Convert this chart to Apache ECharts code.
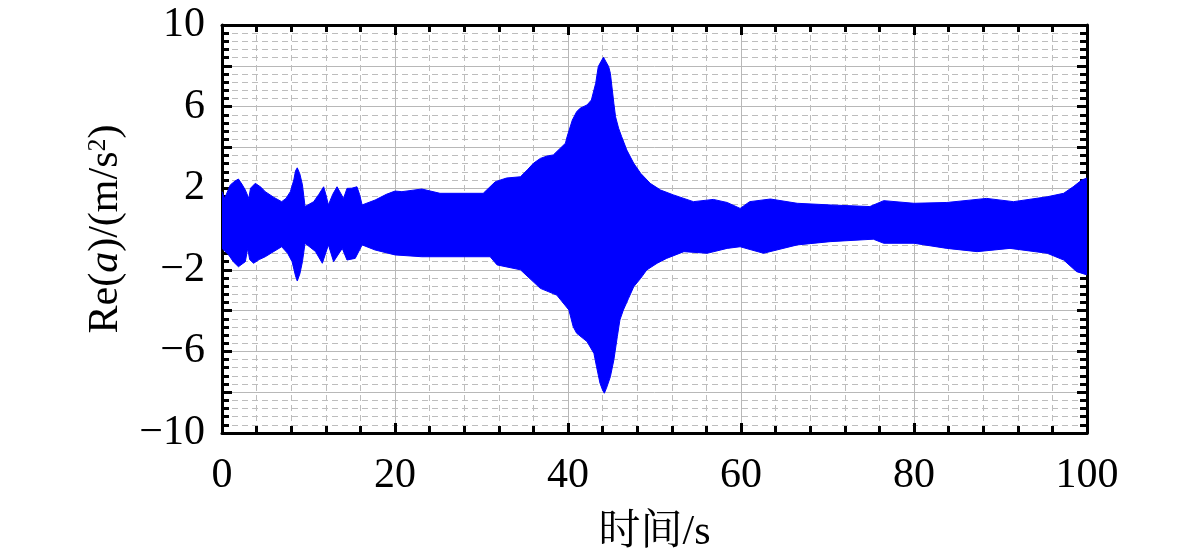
<!DOCTYPE html>
<html><head><meta charset="utf-8">
<script src="https://cdn.jsdelivr.net/npm/echarts@6/dist/echarts.min.js"></script>
<style>html,body{margin:0;padding:0;background:#fff}#c{width:1181px;height:560px}</style>
</head><body><div id="c"></div>
<script>
// Upper envelope of Re(a) [time s, value m/s^2]
const upperEnvelope = [
  [0,1.83],[0.3,1.5],[0.96,2.16],[1.5,2.35],[1.9,2.45],[2.3,2.2],[2.7,1.91],[3.1,1.5],[3.3,2.0],[3.85,2.24],
  [4.5,2.05],[5.0,1.83],[6.0,1.55],[6.9,1.34],[7.4,1.5],[7.9,1.83],[8.3,2.4],[8.5,2.85],[8.7,3.0],
  [9.0,2.7],[9.3,2.16],[9.6,1.1],[10.6,1.34],[11.2,1.7],[11.75,2.07],[12.0,1.7],[12.3,1.18],[12.8,1.7],
  [13.3,2.07],[14.05,1.5],[14.45,1.99],[15.0,2.0],[15.6,2.07],[15.9,1.7],[16.2,1.18],[17.7,1.42],
  [19.0,1.7],[20.0,1.86],[20.8,1.83],[23.1,1.96],[25.2,1.75],[30.2,1.75],[31.6,2.32],[32.9,2.5],
  [34.5,2.56],[35.3,2.9],[36.0,3.22],[36.8,3.46],[37.6,3.58],[38.3,3.63],[39.7,4.2],[39.9,4.53],
  [40.5,5.34],[41.0,5.75],[41.4,5.92],[42.2,6.08],[42.7,6.32],[43.2,7.14],[43.5,7.96],[43.8,8.2],
  [44.1,8.42],[44.7,7.96],[44.9,7.63],[45.3,6.16],[45.5,5.5],[45.85,4.94],[46.2,4.53],[46.8,3.87],
  [47.6,3.22],[48.4,2.73],[49.5,2.24],[50.7,1.91],[52.2,1.67],[54.5,1.34],[56.8,1.45],[58.4,1.3],
  [59.9,1.01],[61.0,1.34],[63.4,1.47],[66.5,1.26],[70.3,1.18],[74.9,1.1],[76.5,1.39],[80.0,1.26],
  [83.8,1.3],[88.4,1.5],[91.5,1.34],[95.4,1.58],[97.3,1.75],[98.4,2.07],[99.4,2.4],[100,2.5]
];
// Lower envelope of Re(a)
const lowerEnvelope = [
  [0,-0.95],[0.77,-1.27],[1.3,-1.6],[1.9,-1.85],[2.7,-1.6],[2.97,-0.95],[3.2,-1.5],[3.65,-1.68],
  [4.3,-1.5],[5.0,-1.36],[6.0,-1.1],[6.9,-0.87],[7.6,-1.2],[8.1,-1.6],[8.5,-2.3],[8.7,-2.55],
  [9.0,-2.2],[9.3,-1.6],[9.6,-0.7],[10.8,-1.1],[11.6,-1.68],[12.3,-0.78],[12.9,-1.6],[13.9,-0.95],
  [14.45,-1.52],[15.4,-1.44],[16.2,-0.78],[17.7,-1.03],[20.0,-1.27],[23.1,-1.36],[25.2,-1.36],
  [31.0,-1.36],[31.8,-1.76],[34.5,-2.0],[36.8,-2.91],[38.7,-3.24],[40.1,-3.97],[40.6,-4.79],
  [41.0,-5.11],[42.2,-5.52],[43.0,-6.1],[43.3,-6.75],[43.7,-7.56],[44.0,-7.9],[44.2,-8.05],
  [44.45,-7.8],[44.9,-7.24],[45.3,-6.42],[45.7,-5.28],[46.0,-4.46],[46.4,-3.97],[47.0,-3.4],
  [47.6,-2.83],[48.4,-2.42],[49.1,-2.01],[50.3,-1.68],[51.4,-1.44],[53.4,-1.11],[56.1,-1.19],
  [58.4,-0.95],[59.9,-0.87],[62.6,-1.19],[66.5,-0.78],[70.3,-0.62],[75.3,-0.5],[76.5,-0.7],
  [80.0,-0.7],[83.8,-0.95],[87.3,-1.11],[91.1,-0.95],[95.4,-1.19],[97.3,-1.52],[98.8,-2.09],[100,-2.25]
];
const yLabelValues = [-10, -6, -2, 2, 6, 10];
const xLabelValues = [0, 20, 40, 60, 80, 100];

const serif = '"Liberation Serif","Times New Roman","Noto Serif CJK SC","Noto Sans CJK SC",serif';
const black = '#000';
const axisLine = {show: true, onZero: false, lineStyle: {color: black, width: 3}};
const tick = {show: true, inside: true, length: 10, lineStyle: {color: black, width: 3}};
const minorTick = {show: true, splitNumber: 5, length: 7, lineStyle: {color: black, width: 3}};
const fmt = v => (v < 0 ? '\u2212' + Math.abs(v) : String(v));

const chart = echarts.init(document.getElementById('c'));
chart.setOption({
  animation: false,
  backgroundColor: '#fff',
  grid: {left: 222, right: 94, top: 25, bottom: 127, containLabel: false},
  xAxis: [{
    type: 'value', min: 0, max: 100, interval: 20, position: 'bottom',
    axisLine, axisTick: tick, minorTick,
    splitLine: {show: true, lineStyle: {color: '#b8b8b8', width: 1}},
    minorSplitLine: {show: true, lineStyle: {color: '#bdbdbd', width: 1, type: [6, 4]}},
    axisLabel: {color: black, fontFamily: serif, fontSize: 42, margin: 22,
      formatter: v => xLabelValues.includes(v) ? fmt(v) : ''},
    name: '时间/s', nameLocation: 'middle', nameGap: 79,
    nameTextStyle: {color: black, fontFamily: serif, fontSize: 42}
  }, {
    type: 'value', min: 0, max: 100, interval: 20, position: 'top',
    axisLine, axisTick: tick, minorTick,
    splitLine: {show: false}, axisLabel: {show: false}
  }],
  yAxis: [{
    type: 'value', min: -10, max: 10, interval: 2, position: 'left',
    axisLine, axisTick: tick, minorTick,
    splitLine: {show: true, lineStyle: {color: '#b8b8b8', width: 1}},
    minorSplitLine: {show: true, lineStyle: {color: '#bdbdbd', width: 1, type: [6, 4]}},
    axisLabel: {color: black, fontFamily: serif, fontSize: 42, margin: 17,
      formatter: v => yLabelValues.includes(v) ? fmt(v) : ''},
    name: 'Re({i|a})/(m/s{sup|2})', nameLocation: 'middle', nameGap: 95,
    nameTextStyle: {color: black, fontFamily: serif, fontSize: 42,
      rich: {
        i: {fontFamily: serif, fontSize: 42, fontStyle: 'italic', color: black},
        sup: {fontFamily: serif, fontSize: 26, color: black, verticalAlign: 'top', lineHeight: 42}
      }}
  }, {
    type: 'value', min: -10, max: 10, interval: 2, position: 'right',
    axisLine, axisTick: tick, minorTick,
    splitLine: {show: false}, axisLabel: {show: false}
  }],
  series: [{
    type: 'line', xAxisIndex: 0, yAxisIndex: 0, data: upperEnvelope,
    showSymbol: false, symbol: 'none', smooth: false,
    lineStyle: {color: '#0000ff', width: 1},
    areaStyle: {color: '#0000ff', opacity: 1},
    z: 1
  }, {
    type: 'line', xAxisIndex: 0, yAxisIndex: 0, data: lowerEnvelope,
    showSymbol: false, symbol: 'none', smooth: false,
    lineStyle: {color: '#0000ff', width: 1},
    areaStyle: {color: '#0000ff', opacity: 1},
    z: 1
  }]
});
</script>
</body></html>
